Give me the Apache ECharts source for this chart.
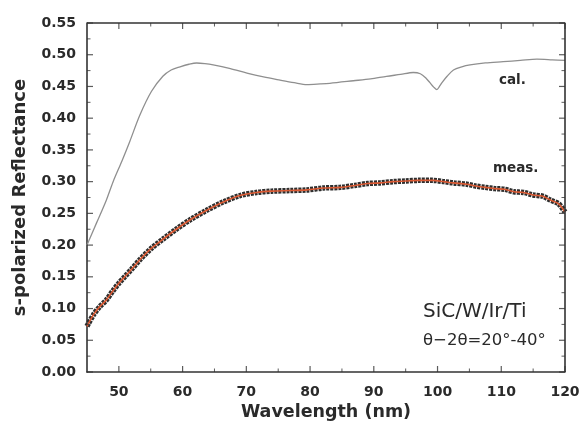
<!DOCTYPE html>
<html>
<head>
<meta charset="utf-8">
<script src="https://cdn.jsdelivr.net/npm/echarts@6/dist/echarts.min.js"></script>
<style>
  html, body { margin: 0; padding: 0; background: #fff; }
  #chart { width: 580px; height: 424px; }
</style>
</head>
<body>
<div id="chart"></div>
<script>
// Calculated s-polarized reflectance (thin gray curve)
const calWavelength = [45, 46.5, 48, 49.1, 50.5, 51.7, 53.3, 55.1, 56.9, 58.2, 59.6, 61, 62.2, 63.5, 64.8, 67.5, 70.1, 72.7, 75.3, 77.5, 79.5, 81.6, 83.1, 86.8, 89.5, 92, 94.2, 96.2, 97.3, 98.2, 98.8, 99.4, 99.9, 100.3, 100.7, 101.5, 102.5, 103.8, 105.1, 107.5, 110.3, 113, 115.6, 118, 120];
const calReflectance = [0.200, 0.235, 0.270, 0.300, 0.333, 0.363, 0.405, 0.442, 0.466, 0.476, 0.481, 0.485, 0.487, 0.486, 0.484, 0.478, 0.471, 0.465, 0.460, 0.456, 0.453, 0.454, 0.455, 0.459, 0.462, 0.466, 0.469, 0.472, 0.470, 0.463, 0.456, 0.449, 0.445, 0.450, 0.456, 0.466, 0.476, 0.481, 0.484, 0.487, 0.489, 0.491, 0.493, 0.492, 0.491];

// Measured s-polarized reflectance (dark symbols with red fit line)
const measWavelength = [45, 46, 47, 48, 49, 50, 51, 52, 53.3, 55, 57, 59, 61.2, 63.8, 66.4, 69, 71.6, 74, 76.9, 79.5, 82.1, 84.8, 87, 89, 91, 93, 95, 97, 99.3, 101, 102.5, 104.6, 106, 107.5, 109, 110.5, 112, 113.5, 115, 116.5, 117.7, 119, 120];
const measReflectance = [0.072, 0.090, 0.103, 0.113, 0.127, 0.140, 0.151, 0.162, 0.177, 0.194, 0.210, 0.225, 0.240, 0.255, 0.268, 0.278, 0.283, 0.285, 0.286, 0.287, 0.290, 0.291, 0.294, 0.297, 0.298, 0.300, 0.301, 0.302, 0.302, 0.300, 0.298, 0.296, 0.293, 0.291, 0.289, 0.288, 0.284, 0.283, 0.279, 0.277, 0.271, 0.265, 0.252];

// Tick positions
const xMajorTicks = [50, 60, 70, 80, 90, 100, 110, 120];
const xMinorTicks = [55, 65, 75, 85, 95, 105, 115];
const yMajorTicks = [0, 0.05, 0.10, 0.15, 0.20, 0.25, 0.30, 0.35, 0.40, 0.45, 0.50, 0.55];
const yMinorTicks = [0.025, 0.075, 0.125, 0.175, 0.225, 0.275, 0.325, 0.375, 0.425, 0.475, 0.525];

const X_MIN = 45, X_MAX = 120, Y_MIN = 0, Y_MAX = 0.55;

const pairs = (xs, ys) => xs.map((x, i) => [x, ys[i]]);

const FONT = '"DejaVu Sans", Verdana, sans-serif';
const AXIS_COLOR = '#333';
const TEXT_COLOR = '#2a2a2a';
const MAJOR = 6, MINOR = 3.5;

// Inward tick marks, drawn as thin rectangles pinned to the frame through the axis scales
function tickItems(values, fixed, isX, len, thick, dir) {
  return values.map(v => ({
    value: isX ? [v, fixed] : [fixed, v],
    symbolSize: isX ? [thick, len] : [len, thick],
    symbolOffset: isX ? [0, dir * len / 2] : [dir * len / 2, 0]
  }));
}
function tickSeries(items) {
  return {
    type: 'scatter', symbol: 'rect', clip: false, silent: true, z: 6,
    itemStyle: { color: AXIS_COLOR }, data: items
  };
}

const chart = echarts.init(document.getElementById('chart'));
chart.setOption({
  animation: false,
  grid: { left: 87, right: 15, top: 23, bottom: 52, outerBoundsMode: 'none' },
  xAxis: {
    type: 'value', min: X_MIN, max: X_MAX, interval: 5,
    splitLine: { show: false },
    axisLine: { show: true, onZero: false, lineStyle: { color: AXIS_COLOR, width: 1.6 } },
    axisTick: { show: false },
    axisLabel: {
      margin: 13, fontFamily: FONT, fontSize: 14, fontWeight: 'bold', color: TEXT_COLOR,
      customValues: xMajorTicks
    },
    name: 'Wavelength (nm)', nameLocation: 'middle', nameGap: 30,
    nameTextStyle: { fontFamily: FONT, fontSize: 17.5, fontWeight: 'bold', color: TEXT_COLOR }
  },
  yAxis: {
    type: 'value', min: Y_MIN, max: Y_MAX, interval: 0.05,
    splitLine: { show: false },
    axisLine: { show: true, onZero: false, lineStyle: { color: AXIS_COLOR, width: 1.6 } },
    axisTick: { show: false },
    axisLabel: {
      margin: 11, fontFamily: FONT, fontSize: 14, fontWeight: 'bold', color: TEXT_COLOR,
      formatter: v => v.toFixed(2)
    },
    name: 's-polarized Reflectance', nameLocation: 'middle', nameGap: 58,
    nameTextStyle: { fontFamily: FONT, fontSize: 18, fontWeight: 'bold', color: TEXT_COLOR }
  },
  series: [
    {
      name: 'cal.', type: 'line', smooth: 0.3, showSymbol: false,
      data: pairs(calWavelength, calReflectance),
      lineStyle: { color: '#8f8f8f', width: 1.3 }
    },
    {
      name: 'meas. symbols', type: 'line', smooth: 0.3, showSymbol: false,
      data: pairs(measWavelength, measReflectance),
      lineStyle: { color: '#2e2e2e', width: 5.5, type: [3, 1] }
    },
    {
      name: 'meas.', type: 'line', smooth: 0.3, showSymbol: false,
      data: pairs(measWavelength, measReflectance),
      lineStyle: { color: '#dc5a33', width: 1.6 }
    },
    // Top and right edges of the frame
    {
      type: 'line', silent: true, clip: false, showSymbol: false, z: 6,
      data: [[X_MIN, Y_MAX], [X_MAX, Y_MAX], [X_MAX, Y_MIN]],
      lineStyle: { color: AXIS_COLOR, width: 1.6 }
    },
    // Ticks on all four sides
    tickSeries(tickItems(xMajorTicks, Y_MIN, true, MAJOR, 1.2, -1).concat(tickItems(xMinorTicks, Y_MIN, true, MINOR, 1, -1))),
    tickSeries(tickItems(xMajorTicks, Y_MAX, true, MAJOR, 1.2, 1).concat(tickItems(xMinorTicks, Y_MAX, true, MINOR, 1, 1))),
    tickSeries(tickItems(yMajorTicks, X_MIN, false, MAJOR, 1.2, 1).concat(tickItems(yMinorTicks, X_MIN, false, MINOR, 1, 1))),
    tickSeries(tickItems(yMajorTicks, X_MAX, false, MAJOR, 1.2, -1).concat(tickItems(yMinorTicks, X_MAX, false, MINOR, 1, -1)))
  ],
  graphic: [
    { type: 'text', left: 499, top: 73, style: { text: 'cal.', font: 'bold 13.5px ' + FONT, fill: TEXT_COLOR } },
    { type: 'text', left: 493, top: 161, style: { text: 'meas.', font: 'bold 13.5px ' + FONT, fill: TEXT_COLOR } },
    { type: 'text', left: 423, top: 302, style: { text: 'SiC/W/Ir/Ti', font: '20px ' + FONT, fill: TEXT_COLOR } },
    { type: 'text', left: 423, top: 332, style: { text: 'θ−2θ=20°-40°', font: '16.5px ' + FONT, fill: TEXT_COLOR } }
  ]
});
</script>
</body>
</html>
